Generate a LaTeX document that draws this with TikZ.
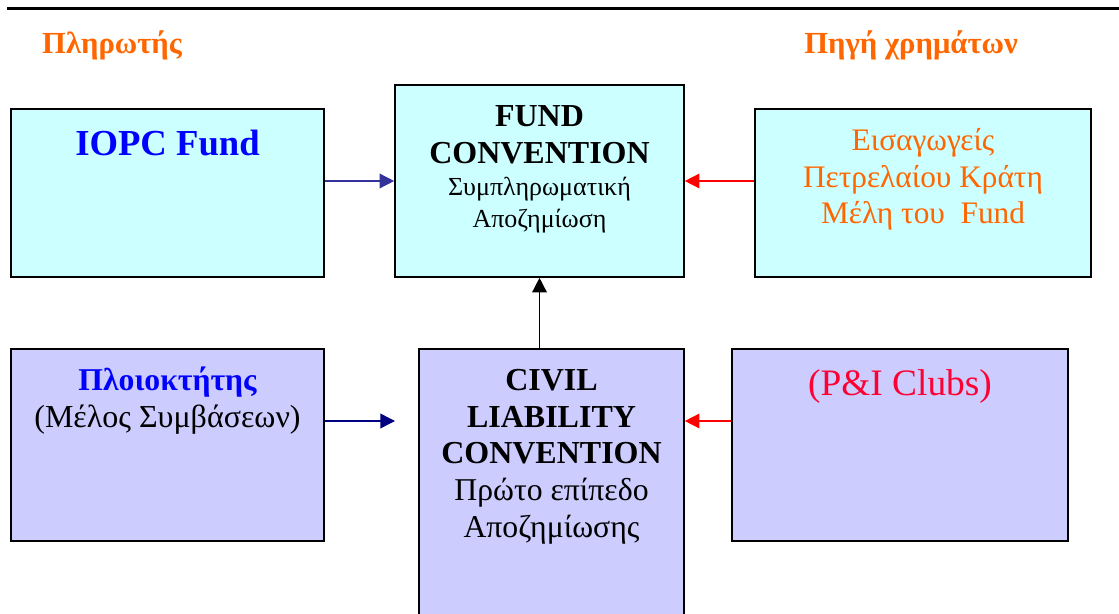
\documentclass[tikz,border=0pt]{standalone}
\usepackage{fontspec}
\setmainfont{Liberation Serif}
\usetikzlibrary{positioning,fit,arrows.meta}
\definecolor{boxcyan}{HTML}{CCFFFF}
\definecolor{boxlilac}{HTML}{CCCCFF}
\definecolor{headorange}{HTML}{FF6600}
\definecolor{arrowblue}{HTML}{333399}
\definecolor{arrownavy}{HTML}{000080}
\definecolor{clubred}{HTML}{FF0033}
\tikzset{
  cbox/.style={draw=black, line width=1.2pt, fill=boxcyan, inner sep=0pt},
  lbox/.style={draw=black, line width=1.2pt, fill=boxlilac, inner sep=0pt},
  btext/.style={inner sep=0pt, align=center},
  head/.style={text=headorange, font=\fontsize{23}{27}\selectfont\bfseries},
  conn/.style={line width=1.1pt, -{Triangle[length=11pt,width=11pt]}}
}
\begin{document}
\begin{tikzpicture}[x=0.75pt, y=-0.75pt]
\useasboundingbox (0,0) rectangle (1119,613);
\draw[line width=2.2pt] (7,8.5) -- (1119,8.5);
\node[head, anchor=base] (payer) at (112,54) {Πληρωτής};
\node[head, anchor=base] (source) at (911,54) {Πηγή χρημάτων};

\node[cbox, fit={(11,109) (324,277)}] (iopc) {};
\node[cbox, fit={(395,85) (684,277)}] (fund) {};
\node[cbox, fit={(755,109) (1091,277)}] (importers) {};
\node[lbox, fit={(11,349) (324,541)}] (owner) {};
\node[lbox, fit={(419,349) (684,630)}] (civil) {};
\node[lbox, fit={(732,349) (1068,541)}] (clubs) {};

\node[btext, below=16pt of iopc.north, text=blue,
  font=\fontsize{27.5}{33}\selectfont\bfseries] (iopctxt) {IOPC Fund};
\node[btext, below=15.75pt of fund.north, font=\fontsize{19.5}{24}\selectfont] (fundtxt)
  {{\fontsize{24}{24}\selectfont\bfseries FUND}\\[3.75pt]
   {\fontsize{24}{24}\selectfont\bfseries CONVENTION}\\
   Συμπληρωματική\\Αποζημίωση};
\node[btext, below=15pt of importers.north, text=headorange,
  font=\fontsize{23.5}{27.4}\selectfont] (importerstxt)
  {Εισαγωγείς\\Πετρελαίου Κράτη\\Μέλη του\ \ Fund};
\node[btext, below=14pt of owner.north, font=\fontsize{24}{27.75}\selectfont] (ownertxt)
  {{\fontsize{23.8}{23.8}\selectfont\bfseries\color{blue}Πλοιοκτήτης}\\(Μέλος Συμβάσεων)};
\node[btext, below=15.75pt of civil.north, font=\fontsize{23.8}{27.5}\selectfont] (civiltxt)
  {{\fontsize{24}{24}\selectfont\bfseries CIVIL}\\
   {\fontsize{24}{24}\selectfont\bfseries LIABILITY}\\
   {\fontsize{24}{24}\selectfont\bfseries CONVENTION}\\
   Πρώτο επίπεδο\\Αποζημίωσης};
\node[btext, below=16pt of clubs.north, text=clubred,
  font=\fontsize{28}{33}\selectfont] (clubstxt) {(P\&I Clubs)};

\coordinate (ownerend) at (395,421);
\draw[conn, arrowblue] (iopc.east |- fund.west) -- (fund.west);
\draw[conn, red] (importers.west |- fund.east) -- (fund.east);
\draw[conn] (fund.south |- civil.north) -- (fund.south);
\draw[conn, arrownavy] (owner.east |- ownerend) -- (ownerend);
\draw[conn, red] (clubs.west |- ownerend) -- (civil.east |- ownerend);
\end{tikzpicture}
\end{document}
